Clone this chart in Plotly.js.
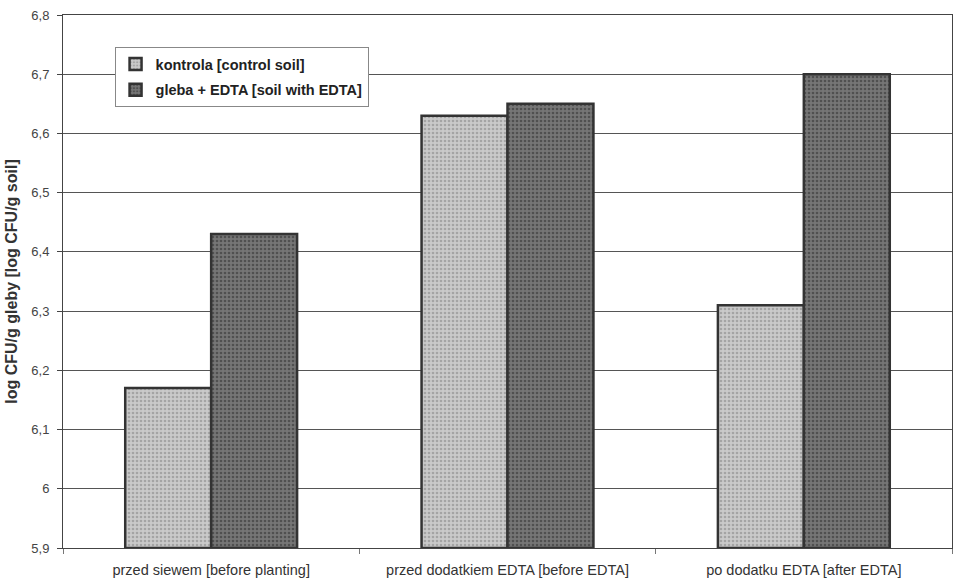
<!DOCTYPE html>
<html><head><meta charset="utf-8">
<script src="https://cdn.plot.ly/plotly-3.0.1.min.js"></script>
<style>html,body{margin:0;padding:0;background:#fff}#c{width:956px;height:583px}</style>
</head><body><div id="c"></div>
<script>
var categories = ["przed siewem [before planting]", "przed dodatkiem EDTA [before EDTA]", "po dodatku EDTA [after EDTA]"];
var controlValues = [6.17, 6.63, 6.31];
var edtaValues = [6.43, 6.65, 6.70];
var seriesNames = ["kontrola [control soil]", "gleba + EDTA [soil with EDTA]"];
var yTickVals = [5.9, 6.0, 6.1, 6.2, 6.3, 6.4, 6.5, 6.6, 6.7, 6.8];
var yTickText = ["5,9", "6", "6,1", "6,2", "6,3", "6,4", "6,5", "6,6", "6,7", "6,8"];

var base = 5.9;
function trace(vals, name, fill, pat, grp) {
  return {
    type: "bar", x: categories, y: vals.map(function(v){return v - base;}), base: base, name: name,
    legendgroup: grp,
    marker: {color: fill, line: {color: "#333333", width: 2.5},
             pattern: {shape: ".", fgcolor: pat, bgcolor: fill, size: 4, solidity: 0.35}},
    hoverinfo: "skip"
  };
}
var data = [
  trace(controlValues, seriesNames[0], "#cacaca", "#a4a4a4", "a"),
  trace(edtaValues, seriesNames[1], "#767676", "#505050", "b")
];
var layout = {
  width: 956, height: 583,
  margin: {l: 63, r: 4, t: 15, b: 35},
  paper_bgcolor: "#ffffff", plot_bgcolor: "#ffffff",
  font: {family: "Arial, Liberation Sans, sans-serif", size: 12, color: "#333"},
  barmode: "group", bargap: 0.42, bargroupgap: 0,
  showlegend: true,
  legend: {x: 0.058, y: 0.94, xanchor: "left", yanchor: "top", bgcolor: "#ffffff",
           bordercolor: "#888", borderwidth: 1, font: {size: 14.5, color: "#222", weight: "bold"},
           itemwidth: 30, tracegroupgap: 4},
  xaxis: {type: "category", showgrid: false, showline: true, linecolor: "#444", linewidth: 1,
          mirror: true, ticks: "outside", tickson: "boundaries", ticklen: 5, tickcolor: "#777",
          ticklabelstandoff: 9, tickfont: {size: 14.5, color: "#333"}},
  yaxis: {range: [5.9, 6.8], tickvals: yTickVals, ticktext: yTickText, showgrid: true,
          gridcolor: "#555", gridwidth: 1, showline: true, linecolor: "#444", linewidth: 1,
          mirror: true, ticks: "outside", ticklen: 5, tickcolor: "#444", ticklabelstandoff: 5,
          tickfont: {size: 13, color: "#444"}, zeroline: false,
          title: {text: "<b>log CFU/g gleby [log CFU/g soil]</b>", font: {size: 16, color: "#333"}, standoff: 9}}
};
Plotly.newPlot("c", data, layout, {displayModeBar: false, staticPlot: true});
</script></body></html>
